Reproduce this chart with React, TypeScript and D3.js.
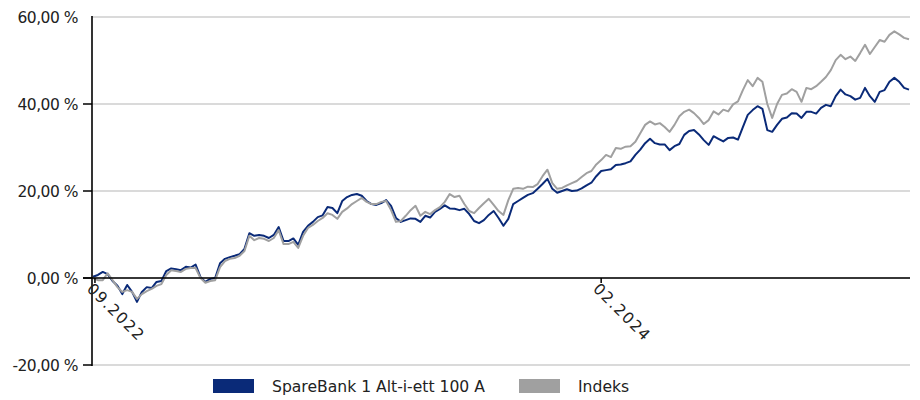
import React from "react";
import * as d3 from "d3";

// ---- data ----
const startDate = "2022-08-30";
const stepDays = 5;

const fundName = "SpareBank 1 Alt-i-ett 100 A";
const indexName = "Indeks";

const fundValues = [
  0.3, 0.7, 1.4, 0.9, -0.7, -1.8, -3.7, -1.6, -3.2, -5.5,
  -3.2, -2.1, -2.3, -0.9, -0.7, 1.6, 2.2, 2.0, 1.8, 2.6,
  2.4, 3.1, 0.2, -0.9, -0.2, 0.0, 3.4, 4.4, 4.8, 5.1,
  5.5, 6.7, 10.3, 9.7, 9.9, 9.7, 9.2, 9.9, 11.7, 8.5,
  8.5, 9.1, 7.6, 10.6, 12.0, 12.9, 14.0, 14.4, 16.3, 16.1,
  14.9, 17.7, 18.6, 19.1, 19.3, 18.9, 17.7, 17.0, 16.8, 17.2,
  17.9, 16.6, 13.8, 12.9, 13.3, 13.7, 13.6, 12.9, 14.3, 13.9,
  15.2, 15.9, 16.7, 16.0, 15.9, 15.6, 15.9, 14.7, 13.1, 12.6,
  13.3, 14.5, 15.4, 13.8, 12.0, 13.6, 17.0, 17.7, 18.4, 19.1,
  19.5, 20.5, 21.6, 22.8, 20.5, 19.6, 20.0, 20.4, 20.0, 20.1,
  20.6, 21.3, 21.9, 23.4, 24.6, 24.8, 25.0, 26.0, 26.1, 26.4,
  26.8, 28.3, 29.5, 31.0, 32.0, 31.0, 30.7, 30.7, 29.4, 30.3,
  30.8, 32.9, 33.8, 34.0, 33.0, 31.7, 30.6, 32.6, 32.0, 31.4,
  32.2, 32.3, 31.8, 34.7, 37.5, 38.6, 39.5, 38.9, 34.0, 33.6,
  35.2, 36.6, 36.9, 37.9, 37.8, 36.8, 38.2, 38.2, 37.8, 39.1,
  39.8, 39.5, 41.8, 43.3, 42.2, 41.8, 41.0, 41.4, 43.7, 41.8,
  40.5, 42.8, 43.2, 45.1, 46.0, 45.1, 43.7, 43.3,
];

const indexValues = [
  0.0, -0.5, -0.5, 1.1, -0.5, -2.1, -3.2, -2.8, -3.2, -4.8,
  -3.7, -3.0, -2.5, -1.8, -1.4, 0.7, 1.8, 1.6, 1.4, 2.1,
  2.3, 2.3, 0.0, -1.1, -0.7, -0.5, 2.5, 3.9, 4.4, 4.6,
  5.1, 6.2, 9.7, 8.7, 9.2, 9.0, 8.5, 9.2, 11.0, 7.8,
  7.8, 8.3, 6.9, 9.7, 11.5, 12.2, 13.1, 13.8, 14.9, 14.5,
  13.6, 15.2, 16.0, 17.0, 17.7, 18.4, 17.5, 17.0, 17.0, 17.5,
  17.7, 15.6, 12.9, 13.1, 14.3, 15.6, 16.6, 14.3, 15.2, 14.7,
  15.6, 16.3, 17.5, 19.3, 18.6, 18.9, 17.0, 15.4, 14.9, 16.1,
  17.2, 18.2, 16.8, 15.4, 14.5, 17.9, 20.5, 20.7, 20.5, 21.0,
  20.9, 21.6, 23.4, 24.9, 21.8, 20.5, 20.7, 21.3, 21.8, 22.3,
  23.2, 24.1, 24.6, 26.1, 27.1, 28.3, 27.8, 29.9, 29.7, 30.2,
  30.3, 31.3, 33.3, 35.2, 36.0, 35.3, 35.6, 34.7, 33.6, 35.2,
  37.2, 38.2, 38.7, 37.9, 36.8, 35.4, 36.3, 38.3, 37.6, 38.7,
  38.3, 39.9, 40.6, 43.2, 45.5, 44.1, 46.0, 45.1, 40.0, 36.8,
  40.0, 42.1, 42.4, 43.4, 42.8, 40.5, 43.7, 43.4, 44.1, 45.1,
  46.2, 47.8, 50.1, 51.3, 50.3, 50.9, 49.9, 51.7, 53.6, 51.5,
  53.1, 54.7, 54.3, 55.9, 56.7, 56.0, 55.2, 54.9,
];

const yTicks = [-20, 0, 20, 40, 60];
const xTickDates = ["2022-09-01", "2024-02-01"];

// ---- styling ----
const W = 920;
const H = 400;
const FUND_COLOR = "#0a2a78";
const INDEX_COLOR = "#a0a0a0";
const FONT = "'DejaVu Sans', sans-serif";

const parse = d3.utcParse("%Y-%m-%d");
const start = parse(startDate) as Date;
const dates = fundValues.map((_, i) => d3.utcDay.offset(start, i * stepDays));

const fmtY = (v: number) => {
  const s = Math.abs(v).toFixed(2).replace(".", ",");
  return (v < 0 ? "-" : "") + s + " %";
};
const fmtX = d3.utcFormat("%m.%Y");

export default function App() {
  const x = d3
    .scaleUtc()
    .domain([dates[0], dates[dates.length - 1]])
    .range([93, 909]);
  const y = d3.scaleLinear().domain([-20, 60]).range([365, 17]);

  const line = d3
    .line<number>()
    .x((_, i) => x(dates[i]))
    .y((d) => y(d));

  const axisX = 92;
  const right = 910;

  return (
    <svg
      width={W}
      height={H}
      style={{ position: "absolute", left: 0, top: 0, background: "#fff" }}
      fontFamily={FONT}
    >
      {/* gridlines */}
      {yTicks.map((t) => (
        <line
          key={"g" + t}
          x1={axisX}
          x2={right}
          y1={y(t)}
          y2={y(t)}
          stroke="#dadada"
          strokeWidth={1.8}
        />
      ))}
      {/* y tick labels & ticks */}
      {yTicks.map((t) => (
        <g key={"t" + t}>
          {t !== 60 && (
            <line x1={axisX - 9} x2={axisX} y1={y(t)} y2={y(t)} stroke="#000" strokeWidth={1.5} />
          )}
          <text
            x={78}
            y={y(t)}
            dy="0.4em"
            textAnchor="end"
            fontSize={15.5}
            fill="#222"
            letterSpacing={-0.5}
          >
            {fmtY(t)}
          </text>
        </g>
      ))}
      {/* series */}
      <path d={line(fundValues) || ""} fill="none" stroke={FUND_COLOR} strokeWidth={2} strokeLinejoin="round" />
      <path d={line(indexValues) || ""} fill="none" stroke={INDEX_COLOR} strokeWidth={2} strokeLinejoin="round" />
      {/* zero line */}
      <line x1={axisX - 9} x2={right} y1={y(0)} y2={y(0)} stroke="#000" strokeWidth={1.6} />
      {/* y axis */}
      <line x1={axisX} x2={axisX} y1={y(60) - 1} y2={y(-20) + 1} stroke="#000" strokeWidth={1.6} />
      {/* x ticks */}
      {xTickDates.map((d) => {
        const px = x(parse(d) as Date);
        return (
          <g key={d}>
            <line x1={px} x2={px} y1={y(0)} y2={y(0) + 5} stroke="#000" strokeWidth={1.5} />
            <text
              transform={`translate(${px - 5},${y(0) + 8}) rotate(45)`}
              fontSize={15.5}
              fill="#222"
              dy="0.35em"
              letterSpacing={1.4}
            >
              {fmtX(parse(d) as Date)}
            </text>
          </g>
        );
      })}
      {/* legend */}
      <rect x={213} y={379} width={41} height={14} fill={FUND_COLOR} />
      <text x={272} y={392} fontSize={15.6} fill="#222">
        {fundName}
      </text>
      <rect x={519} y={379} width={41} height={14} fill={INDEX_COLOR} />
      <text x={578} y={392} fontSize={15.6} fill="#222">
        {indexName}
      </text>
    </svg>
  );
}
